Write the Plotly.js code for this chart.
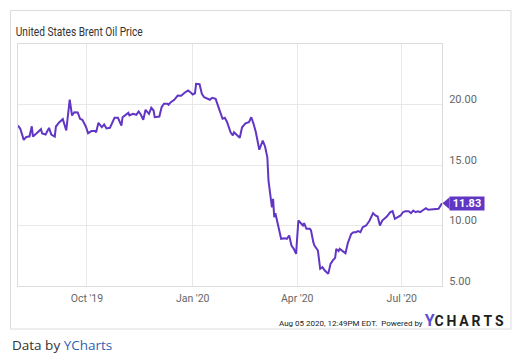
<!DOCTYPE html>
<html>
<head>
<meta charset="utf-8">
<script src="https://cdn.plot.ly/plotly-3.0.1.min.js"></script>
<style>
html,body{margin:0;padding:0;background:#fff;}
#chart{width:530px;height:356px;}
</style>
</head>
<body>
<div id="chart"></div>
<script>
// ---- data ----
const dates = [
"2019-08-02","2019-08-04","2019-08-07","2019-08-09","2019-08-11","2019-08-12","2019-08-14","2019-08-15",
"2019-08-18","2019-08-22","2019-08-23","2019-08-26","2019-08-29","2019-08-31","2019-09-03","2019-09-04",
"2019-09-07","2019-09-10","2019-09-13","2019-09-16","2019-09-18","2019-09-20","2019-09-23","2019-09-25",
"2019-09-27","2019-09-30","2019-10-02","2019-10-05","2019-10-08","2019-10-09","2019-10-11","2019-10-14",
"2019-10-16","2019-10-18","2019-10-21","2019-10-25","2019-10-28","2019-10-31","2019-11-01","2019-11-04",
"2019-11-06","2019-11-07","2019-11-10","2019-11-13","2019-11-15","2019-11-17","2019-11-19","2019-11-21",
"2019-11-24","2019-11-26","2019-11-28","2019-11-29","2019-12-03","2019-12-05","2019-12-07","2019-12-10",
"2019-12-11","2019-12-13","2019-12-16","2019-12-19","2019-12-22","2019-12-25","2019-12-28","2019-12-30",
"2020-01-01","2020-01-03","2020-01-04","2020-01-07","2020-01-09","2020-01-11","2020-01-14","2020-01-16",
"2020-01-18","2020-01-21","2020-01-24","2020-01-27","2020-01-29","2020-01-31","2020-02-03","2020-02-05",
"2020-02-06","2020-02-09","2020-02-11","2020-02-13","2020-02-16","2020-02-19","2020-02-21","2020-02-23",
"2020-02-25","2020-02-28","2020-03-02","2020-03-04","2020-03-06","2020-03-07","2020-03-09","2020-03-10",
"2020-03-11","2020-03-12","2020-03-13","2020-03-16","2020-03-18","2020-03-21","2020-03-23","2020-03-25",
"2020-03-27","2020-03-29","2020-03-31","2020-04-02","2020-04-04","2020-04-06","2020-04-07","2020-04-09",
"2020-04-12","2020-04-13","2020-04-15","2020-04-16","2020-04-19","2020-04-21","2020-04-23","2020-04-25",
"2020-04-28","2020-04-30","2020-05-02","2020-05-04","2020-05-05","2020-05-07","2020-05-08","2020-05-10",
"2020-05-13","2020-05-15","2020-05-18","2020-05-20","2020-05-22","2020-05-24","2020-05-26","2020-05-28",
"2020-05-31","2020-06-02","2020-06-03","2020-06-06","2020-06-08","2020-06-10","2020-06-12","2020-06-14",
"2020-06-16","2020-06-18","2020-06-21","2020-06-23","2020-06-25","2020-06-27","2020-06-30","2020-07-02",
"2020-07-04","2020-07-07","2020-07-09","2020-07-11","2020-07-13","2020-07-15","2020-07-17","2020-07-20",
"2020-07-22","2020-07-24","2020-07-27","2020-07-30","2020-08-02","2020-08-05"
];
const prices = [
18.26,17.99,17.08,17.30,17.35,17.35,18.20,17.35,
17.60,17.96,17.60,17.52,18.07,17.52,17.35,18.18,
18.54,18.79,17.85,20.41,19.09,19.36,19.34,18.82,
18.73,18.18,17.63,17.80,17.80,17.70,18.49,18.12,
18.35,18.02,18.07,18.90,18.90,18.26,18.95,19.17,
19.31,19.09,19.23,19.15,19.42,19.15,18.73,19.56,
19.23,19.73,19.50,18.95,19.00,19.78,20.06,20.06,
19.98,20.19,20.39,20.74,20.72,20.97,21.16,21.02,
20.83,20.93,21.71,21.68,20.88,20.60,20.47,20.39,
20.55,20.47,19.64,18.82,18.90,18.54,17.71,17.44,
17.71,17.44,17.25,18.12,18.45,18.54,18.95,18.40,
17.71,16.26,17.02,16.53,15.64,13.70,12.30,11.50,
12.20,10.69,11.02,9.59,8.90,8.95,8.90,9.17,
8.35,8.07,7.66,10.41,10.19,10.00,10.19,9.73,
9.73,9.59,8.62,8.35,7.93,6.42,6.55,6.28,
6.00,6.83,7.11,7.33,8.07,7.88,8.07,7.93,
7.71,8.54,9.31,9.45,9.45,9.53,9.45,9.86,
10.00,10.27,10.41,11.02,10.83,10.74,10.00,10.41,
10.55,10.74,11.10,11.18,10.55,10.69,10.83,11.10,
11.18,11.18,11.02,11.24,11.10,11.18,11.10,11.30,
11.43,11.30,11.32,11.30,11.38,11.83
];
const xTickVals = ["2019-10-01","2020-01-01","2020-04-01","2020-07-01"];
const xTickText = ["Oct '19","Jan '20","Apr '20","Jul '20"];
const yTickVals = [5,10,15,20];
const titleText = "United States Brent Oil Price";
const stampText = "Aug 05 2020, 12:49PM EDT.  Powered by";

// ---- layout helpers (pixel -> paper) ----
const L=18, R=88, T=44, B=70, W=530, H=356;
const PW=W-L-R, PH=H-T-B;
const px = x => (x-L)/PW;
const py = y => (H-B-y)/PH;

const purple = "#6236c4";
const narrow = "'Liberation Sans Narrow', 'Arial Narrow', Roboto, sans-serif";
const lastVal = prices[prices.length-1];
const halfU = 6/ (PH/20);

const trace = {
  x: dates, y: prices, type: "scatter", mode: "lines",
  line: {color: purple, width: 2}, hoverinfo: "skip"
};

const footer = stampText + " " +
  "<span style='font-size:16px;color:#5b4fd6'><b>Y</b></span>" +
  "<span style='font-size:14px;color:#1e1e1e'><b>C\u2009H\u2009A\u2009R\u2009T\u2009S</b></span>";

const layout = {
  width: W, height: H,
  margin: {l: L, r: R, t: T, b: B},
  paper_bgcolor: "#fff", plot_bgcolor: "#fff",
  showlegend: false,
  xaxis: {
    type: "date", range: ["2019-08-02","2020-08-05"],
    tickvals: xTickVals, ticktext: xTickText,
    showgrid: true, gridcolor: "#e8e8e8", gridwidth: 1,
    showline: true, linecolor: "#dcdcdc", linewidth: 1, mirror: true,
    ticks: "", zeroline: false,
    tickfont: {family: narrow, size: 10.5, color: "#666"},
    ticklabelstandoff: 2
  },
  yaxis: {
    range: [5, 25], side: "right",
    tickvals: yTickVals, tickformat: ".2f",
    showgrid: true, gridcolor: "#e8e8e8", gridwidth: 1,
    showline: true, linecolor: "#dcdcdc", linewidth: 1, mirror: true,
    ticks: "", zeroline: false,
    tickfont: {family: narrow, size: 11, color: "#666"},
    ticklabelshift: -5, ticklabelstandoff: 4
  },
  shapes: [
    {type: "rect", xref: "paper", yref: "paper",
     x0: px(10.5), x1: px(511), y0: py(10.5), y1: py(329),
     line: {color: "#dcdcdc", width: 1}, fillcolor: "rgba(0,0,0,0)", layer: "below"},
    {type: "path", xref: "paper", yref: "y",
     path: "M " + px(442.5) + " " + lastVal + " L " + px(449.5) + " " + (lastVal+halfU) +
           " L " + px(449.5) + " " + (lastVal-halfU) + " Z",
     line: {width: 0}, fillcolor: purple}
  ],
  annotations: [
    {text: titleText, xref: "paper", yref: "paper", x: px(79.5), y: py(31),
     xanchor: "center", yanchor: "middle", showarrow: false,
     font: {family: narrow, size: 13, color: "#333"}},
    {text: "<b>" + lastVal.toFixed(2) + "</b>", xref: "paper", yref: "y",
     x: px(449), y: lastVal, xanchor: "left", yanchor: "middle", showarrow: false,
     bgcolor: purple, borderpad: 1, width: 32, height: 11,
     font: {family: narrow, size: 11, color: "#fff"}},
    {text: footer, xref: "paper", yref: "paper",
     x: px(505), y: py(320), xanchor: "right", yanchor: "middle", showarrow: false,
     borderpad: 0, font: {family: "Roboto, sans-serif", size: 8, color: "#222"}},
    {text: "Data by <span style='color:#2f5fb3'>YCharts</span>", xref: "paper", yref: "paper",
     x: px(10), y: py(345), xanchor: "left", yanchor: "middle", showarrow: false,
     font: {family: "'Open Sans', sans-serif", size: 13.5, color: "#333"}}
  ]
};

Plotly.newPlot("chart", [trace], layout, {displayModeBar: false, staticPlot: true}).then(function(gd){
  // condense the title to the narrow look of the original
  gd.querySelectorAll(".annotation-text").forEach(function(t){
    if (t.textContent.replace(/\u00a0/g, " ") === titleText) {
      t.setAttribute("textLength", 127);
      t.setAttribute("lengthAdjust", "spacingAndGlyphs");
    }
  });
});
</script>
</body>
</html>
